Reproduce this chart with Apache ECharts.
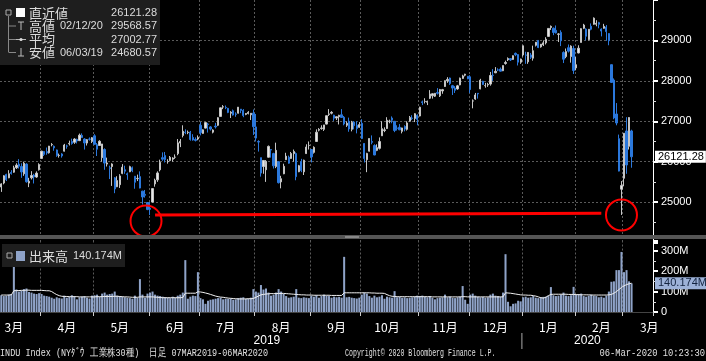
<!DOCTYPE html>
<html><head><meta charset="utf-8">
<script src="https://cdn.jsdelivr.net/npm/echarts@6/dist/echarts.min.js"></script>
<style>html,body{margin:0;padding:0;background:#000;}#c{width:706px;height:361px;}</style>
</head><body><div id="c"></div>
<script>
// ---- categories: trading days per month (last 8 of Mar 2020 are empty slots) ----
const monthDays = [
 ['2019-03', [8,11,12,13,14,15,18,19,20,21,22,25,26,27,28,29]],
 ['2019-04', [1,2,3,4,5,8,9,10,11,12,15,16,17,18,22,23,24,25,26,29,30]],
 ['2019-05', [1,2,3,6,7,8,9,10,13,14,15,16,17,20,21,22,23,24,28,29,30,31]],
 ['2019-06', [3,4,5,6,7,10,11,12,13,14,17,18,19,20,21,24,25,26,27,28]],
 ['2019-07', [1,2,3,5,8,9,10,11,12,15,16,17,18,19,22,23,24,25,26,29,30,31]],
 ['2019-08', [1,2,5,6,7,8,9,12,13,14,15,16,19,20,21,22,23,26,27,28,29,30]],
 ['2019-09', [3,4,5,6,9,10,11,12,13,16,17,18,19,20,23,24,25,26,27,30]],
 ['2019-10', [1,2,3,4,7,8,9,10,11,14,15,16,17,18,21,22,23,24,25,28,29,30,31]],
 ['2019-11', [1,4,5,6,7,8,11,12,13,14,15,18,19,20,21,22,25,26,27,29]],
 ['2019-12', [2,3,4,5,6,9,10,11,12,13,16,17,18,19,20,23,24,26,27,30,31]],
 ['2020-01', [2,3,6,7,8,9,10,13,14,15,16,17,21,22,23,24,27,28,29,30,31]],
 ['2020-02', [3,4,5,6,7,10,11,12,13,14,18,19,20,21,24,25,26,27,28]],
 ['2020-03', [2,3,4,5,6,9,10,11,12,13,16,17]]
];

// ---- daily candles [open, close, low, high] ----
const ohlc = [
 // Mar 2019
 [25373,25450,25252,25466],[25472,25650,25440,25665],[25685,25554,25520,25702],[25600,25702,25590,25790],
 [25735,25709,25680,25790],[25740,25848,25725,25900],[25850,25914,25820,25960],[25940,25887,25830,26062],
 [25880,25745,25600,25960],[25700,25962,25650,26000],[25940,25502,25480,25960],[25470,25516,25370,25600],
 [25600,25657,25560,25765],[25670,25625,25460,25700],[25620,25717,25600,25760],[25800,25929,25780,25960],
 // Apr
 [26080,26259,26070,26270],[26250,26180,26140,26260],[26250,26218,26170,26350],[26220,26385,26200,26390],
 [26420,26425,26380,26460],[26380,26341,26270,26400],[26290,26150,26120,26300],[26150,26157,26100,26200],
 [26190,26143,26100,26210],[26260,26412,26250,26440],[26390,26384,26320,26420],[26440,26452,26400,26520],
 [26500,26449,26420,26570],[26480,26559,26440,26580],[26550,26511,26450,26570],[26520,26656,26510,26695],
 [26650,26597,26590,26700],[26560,26462,26300,26580],[26460,26543,26400,26560],[26560,26554,26520,26600],
 [26500,26593,26460,26610],
 // May
 [26640,26430,26420,26680],[26420,26308,26140,26460],[26400,26505,26390,26530],[26100,26438,26000,26440],
 [26300,25965,25800,26330],[25940,25968,25880,26100],[25850,25828,25570,25900],[25880,25942,25400,25960],
 [25600,25325,25220,25620],[25380,25532,25370,25640],[25430,25648,25350,25690],[25710,25862,25690,25940],
 [25800,25764,25700,25900],[25700,25679,25550,25730],[25750,25877,25740,25900],[25850,25776,25740,25880],
 [25640,25490,25330,25640],[25580,25586,25520,25680],[25630,25347,25340,25760],[25270,25126,24940,25280],
 [25190,25169,25110,25300],[24990,24815,24800,25000],
 // Jun
 [24850,24820,24680,25000],[25000,25333,24990,25340],[25450,25540,25380,25580],[25550,25720,25500,25760],
 [25800,25984,25760,26050],[26100,26062,26020,26230],[26150,26049,25980,26240],[26000,26005,25950,26060],
 [26030,26107,26020,26140],[26060,26090,26000,26110],[26110,26112,26070,26180],[26200,26465,26160,26560],
 [26460,26504,26360,26560],[26650,26753,26600,26900],[26730,26719,26680,26800],[26720,26728,26680,26770],
 [26730,26548,26520,26760],[26600,26536,26520,26680],[26550,26526,26500,26600],[26560,26600,26530,26650],
 // Jul
 [26900,26717,26650,26980],[26700,26787,26690,26800],[26830,26966,26820,26970],[26930,26922,26720,26960],
 [26860,26806,26770,26880],[26730,26783,26700,26800],[26880,26860,26820,26960],[26900,27088,26880,27100],
 [27120,27332,27110,27340],[27350,27359,27300,27400],[27340,27335,27300,27390],[27320,27219,27200,27330],
 [27200,27223,27080,27250],[27260,27154,27140,27290],[27180,27171,27110,27220],[27200,27349,27190,27350],
 [27300,27269,27200,27300],[27270,27140,27100,27300],[27170,27192,27150,27200],[27190,27221,27170,27250],
 [27160,27198,27030,27200],[27200,26864,26660,27290],
 // Aug
 [26860,26583,26500,27180],[26500,26485,26250,26530],[26100,25718,25630,26100],[25880,26030,25700,26040],
 [25800,26008,25500,26040],[26110,26378,26100,26400],[26300,26287,26100,26310],[26200,25897,25830,26220],
 [25880,26280,25840,26470],[26000,25480,25460,26010],[25500,25579,25340,25650],[25700,25886,25690,25950],
 [26050,26136,26040,26220],[26110,25962,25950,26150],[26080,26202,26070,26240],[26200,26252,26000,26300],
 [26200,25629,25540,26230],[25750,25899,25740,25920],[26000,25778,25740,26070],[25750,26036,25670,26050],
 [26200,26362,26190,26430],[26400,26403,26300,26500],
 // Sep
 [26300,26118,25980,26310],[26230,26355,26200,26380],[26500,26728,26490,26800],[26780,26797,26750,26830],
 [26820,26835,26790,26900],[26800,26909,26760,26910],[26930,27137,26920,27140],[27170,27182,27130,27300],
 [27200,27220,27170,27250],[27150,27076,27010,27160],[27080,27111,27030,27120],[27110,27147,26920,27160],
 [27160,27094,27080,27300],[27100,26935,26900,27130],[26900,26949,26860,27000],[27000,26808,26740,27090],
 [26800,26970,26750,27010],[26980,26891,26800,27000],[26900,26820,26700,27000],[26850,26917,26840,26980],
 // Oct
 [26950,26573,26560,27050],[26450,26079,25980,26460],[26050,26201,25740,26220],[26260,26573,26250,26580],
 [26500,26478,26430,26650],[26400,26165,26160,26430],[26280,26347,26260,26430],[26330,26497,26300,26600],
 [26640,26817,26640,27000],[26770,26787,26730,26850],[26820,27024,26810,27100],[27000,27001,26950,27040],
 [27080,27026,26950,27120],[27000,26770,26730,27000],[26830,26827,26770,26900],[26850,26788,26780,26930],
 [26750,26834,26700,26840],[26870,26806,26750,26900],[26800,26958,26770,27000],[27000,27091,26990,27130],
 [27080,27071,27030,27150],[27070,27186,26980,27200],[27150,27046,26900,27170],
 // Nov
 [27130,27347,27120,27360],[27480,27462,27400,27510],[27490,27492,27440,27570],[27470,27493,27400,27510],
 [27570,27675,27550,27770],[27630,27681,27560,27690],[27620,27691,27600,27700],[27710,27691,27660,27820],
 [27630,27784,27600,27800],[27750,27782,27680,27800],[27860,28005,27850,28010],[28000,28036,27950,28090],
 [28070,27934,27900,28080],[27880,27821,27650,27900],[27820,27766,27700,27870],[27800,27876,27780,27900],
 [27900,28066,27890,28080],[28060,28122,28050,28150],[28140,28164,28110,28175],[28110,28051,28040,28120],
 // Dec
 [28100,27783,27700,28140],[27500,27503,27320,27540],[27550,27650,27530,27700],[27690,27677,27560,27700],
 [27800,28015,27790,28050],[27990,27909,27900,28000],[27880,27882,27830,27950],[27900,27911,27850,27950],
 [27920,28132,27880,28220],[28140,28135,28000,28290],[28200,28235,28190,28340],[28270,28267,28240,28310],
 [28290,28239,28230,28330],[28250,28377,28240,28380],[28430,28455,28400,28500],[28520,28551,28490,28580],
 [28550,28516,28490,28560],[28530,28621,28520,28630],[28680,28645,28610,28700],[28650,28462,28380,28660],
 [28460,28538,28420,28550],
 // Jan 2020
 [28640,28868,28600,28870],[28640,28634,28420,28720],[28470,28703,28420,28710],[28640,28583,28540,28690],
 [28560,28745,28500,28870],[28880,28956,28850,28960],[29000,28823,28810,29010],[28840,28907,28820,28910],
 [28890,28940,28860,29000],[28940,29030,28900,29080],[29100,29297,29090,29300],[29320,29348,29260,29370],
 [29300,29196,29130,29320],[29250,29186,29170,29370],[29150,29160,28960,29180],[29200,28990,28860,29250],
 [28700,28535,28440,28730],[28600,28723,28560,28800],[28820,28734,28700,28900],[28600,28859,28450,28880],
 [28800,28256,28170,28870],
 // Feb
 [28320,28399,28260,28590],[28690,28808,28680,28880],[28950,29291,28950,29300],[29300,29380,29280,29410],
 [29280,29103,29000,29300],[29020,29276,29000,29280],[29350,29276,29250,29420],[29400,29551,29390,29569],
 [29400,29423,29350,29500],[29440,29398,29300,29460],[29280,29232,29100,29300],[29300,29348,29290,29410],
 [29330,29219,28990,29380],[29170,28992,28880,29180],[28400,27961,27950,28400],[28020,27081,27050,28060],
 [27180,26957,26900,27450],[26570,25766,25760,26670],[25320,25409,24681,25520],
 // Mar 2020
 [25590,26703,25390,26710],[26760,25917,25700,27100],[26380,27091,26300,27100],[26760,26121.28,25850,26790]
];

// ---- volume (millions) ----
const volume = [
 82,78,80,85,88,318,110,100,105,112,115,98,95,90,88,92,
 88,80,78,75,70,65,72,68,66,80,70,75,82,78,62,72,75,78,70,66,80,
 82,85,75,90,95,85,88,90,100,80,78,75,72,70,68,65,80,70,161,85,70,90,
 95,100,85,80,78,75,72,70,68,75,70,80,85,95,254,65,75,80,78,195,
 68,62,40,55,60,62,65,68,70,62,65,64,66,60,62,68,70,72,65,66,70,112,
 100,95,132,110,115,95,80,85,95,112,100,88,78,70,72,75,112,70,68,72,70,68,
 80,75,82,70,78,85,80,78,70,75,72,74,70,270,72,74,70,68,66,70,
 85,95,90,78,70,80,72,75,82,65,75,72,70,102,72,74,70,72,68,70,72,75,80,
 78,80,75,72,78,70,62,68,70,72,85,72,75,70,68,72,75,127,60,40,
 85,90,80,75,72,74,70,72,85,90,80,78,75,95,283,50,28,40,42,55,52,
 72,75,70,72,78,70,68,72,74,75,80,122,82,78,80,85,95,80,78,82,123,
 85,88,90,78,75,80,85,80,78,72,75,70,80,100,148,150,205,205,294,
 195,205,150,140.174
];
// ---- volume average line (millions) ----
const volumeAvg = [
 83,83,83,83,84,104,105,105,106,106,107,107,106,106,106,106,
 106,105,104,104,100,92,85,80,77,76,76,75,75,75,75,74,74,74,74,74,74,
 74,75,75,75,76,76,76,76,77,77,76,75,74,74,73,72,72,72,74,74,74,74,
 74,74,73,72,71,70,70,70,70,70,70,70,70,71,92,92,92,92,92,99,
 98,96,93,90,86,82,78,75,73,72,70,68,67,66,65,64,64,64,64,65,65,66,
 72,78,84,86,88,89,90,90,90,91,91,91,90,89,88,87,86,85,84,84,83,83,
 83,82,82,82,82,82,82,82,81,81,81,81,81,94,94,94,94,94,94,94,
 94,94,94,94,93,93,92,92,92,91,85,80,77,76,75,75,75,75,75,75,75,75,75,
 75,75,75,75,75,74,74,74,74,74,74,74,74,74,74,74,74,75,75,74,
 74,74,74,74,74,74,74,74,74,74,74,74,74,74,94,93,92,90,88,86,84,
 83,83,82,82,80,78,74,70,68,72,80,86,87,87,87,87,87,87,86,86,86,
 85,85,84,84,84,84,83,83,83,83,83,83,83,84,86,92,100,110,120,
 128,134,138,141
];

const legendRows = [
 ['直近値', '', '26121.28'],
 ['高値', '02/12/20', '29568.57'],
 ['平均', '', '27002.77'],
 ['安値', '06/03/19', '24680.57']
];
const lastPrice = 26121.28;
const lastVolume = 140.174;
const circleMarks = [[59, 24530], [246, 24680]];   // [day index, price]
const supportLine = [[61, 24680], [238, 24722]];  // [day index, price]
const footerLeft = 'INDU Index (NYﾀﾞｳ 工業株30種)  日足 07MAR2019-06MAR2020';
const footerMid = 'Copyright© 2020 Bloomberg Finance L.P.';
const footerRight = '06-Mar-2020 10:23:30';

// ---- build categories ----
const cats = [];
const monthStart = new Set();
const labelIdx = new Set();
monthDays.forEach(([ym, days], mi) => {
  const s = cats.length;
  if (mi > 0) monthStart.add(s);
  days.forEach(d => cats.push(ym + '-' + String(d).padStart(2, '0')));
});
{
  let s = 0;
  monthDays.forEach(([ym, days], mi) => {
    if (mi === 0) labelIdx.add(days.length - 11);
    else labelIdx.add(s + 10);
    s += days.length;
  });
}
const jan2020 = cats.indexOf('2020-01-02');

const CJK = '"Noto Sans CJK JP", sans-serif';
const NUM = '"Liberation Sans", Arial, sans-serif';
const gridDot = {color: '#5a5a5a', type: [2, 2], width: 1};
const clear = {color: 'rgba(0,0,0,0)', width: 1};

const chart = echarts.init(document.getElementById('c'));
chart.setOption({
  animation: false,
  backgroundColor: '#000',
  grid: [
    {left: 0, right: 53, top: 0, height: 242.5},
    {left: 0, right: 53, top: 240.5, height: 71.5}
  ],
  xAxis: [
    {type: 'category', gridIndex: 0, data: cats, boundaryGap: true,
     axisLine: {show: false}, axisTick: {show: false}, axisLabel: {show: false},
     splitLine: {show: true, interval: (i) => monthStart.has(i), lineStyle: gridDot}},
    {type: 'category', gridIndex: 1, data: cats, boundaryGap: true, offset: 6,
     axisLine: {show: true, lineStyle: {color: '#444'}},
     axisTick: {show: true, interval: (i) => monthStart.has(i), length: 4, lineStyle: {color: '#ccc'}},
     axisLabel: {interval: (i) => labelIdx.has(i), color: '#fff', fontSize: 12, margin: 3,
       fontFamily: CJK, formatter: (v) => parseInt(v.slice(5, 7), 10) + '月'},
     splitLine: {show: true, interval: (i) => monthStart.has(i), lineStyle: gridDot}}
  ],
  yAxis: [
    {type: 'value', gridIndex: 0, position: 'right', min: 24000, max: 30000, interval: 1000,
     axisLine: {show: true, lineStyle: {color: '#fff'}},
     axisTick: {show: true, length: 5, lineStyle: {color: '#fff', width: 2}},
     minorTick: {show: true, splitNumber: 2, length: 3, lineStyle: {color: '#ddd'}},
     axisLabel: {color: '#fff', fontSize: 11, margin: 8, fontFamily: NUM, showMinLabel: false, showMaxLabel: false,
       formatter: (v) => String(v)},
     splitLine: {show: true, showMinLine: false, showMaxLine: false, lineStyle: gridDot}},
    {type: 'value', gridIndex: 1, position: 'right', min: 0, max: 350, interval: 100,
     axisLine: {show: true, lineStyle: {color: '#fff'}},
     axisTick: {show: true, length: 5, lineStyle: {color: '#fff', width: 2}},
     minorTick: {show: true, splitNumber: 2, length: 3, lineStyle: {color: '#ddd'}},
     axisLabel: {color: '#fff', fontSize: 11, margin: 8, fontFamily: NUM, showMaxLabel: false,
       formatter: (v) => v === 0 ? '0' : v + 'M'},
     splitLine: {show: false}}
  ],
  series: [
    {type: 'candlestick', xAxisIndex: 0, yAxisIndex: 0, data: ohlc, barWidth: '70%',
     itemStyle: {color: '#e8e8e8', color0: '#2b78dc', borderColor: '#c4c4c4', borderColor0: '#2b78dc', borderWidth: 1},
     markPoint: {symbol: 'circle', symbolSize: 31, silent: true,
       itemStyle: {color: 'rgba(0,0,0,0)', borderColor: '#ff0000', borderWidth: 2},
       label: {show: false},
       data: [
         {coord: [cats[circleMarks[0][0]], circleMarks[0][1]], symbolOffset: [-4, 0]},
         {coord: [cats[circleMarks[1][0]], circleMarks[1][1]]}
       ]},
     markLine: {symbol: ['none', 'none'], silent: true,
       data: [
         [{coord: [cats[supportLine[0][0]], supportLine[0][1]], lineStyle: {color: '#ff0000', width: 3, type: 'solid'}, label: {show: false}},
          {coord: [cats[supportLine[1][0]], supportLine[1][1]]}],
         {yAxis: lastPrice, lineStyle: clear,
          label: {show: true, position: 'end', distance: 2, formatter: String(lastPrice),
            backgroundColor: '#fff', color: '#000', fontSize: 11, fontFamily: NUM, padding: [1, 2, 0, 3]}}
       ]}
    },
    {type: 'bar', xAxisIndex: 1, yAxisIndex: 1, data: volume, barWidth: '80%',
     itemStyle: {color: '#8fa3c8'},
     markLine: {symbol: ['none', 'none'], silent: true,
       data: [{yAxis: lastVolume, lineStyle: clear,
         label: {show: true, position: 'end', distance: 2, formatter: lastVolume + 'M',
           backgroundColor: '#9db2d8', color: '#13233f', fontSize: 11, fontFamily: NUM, padding: [1, 2, 0, 3]}}]}
    },
    {type: 'line', xAxisIndex: 1, yAxisIndex: 1, data: volumeAvg, showSymbol: false, z: 3,
     lineStyle: {color: '#f0f0f0', width: 1}}
  ]
});

// ---- decorations & texts (positions from axes) ----
const px = (i) => chart.convertToPixel({xAxisIndex: 1}, cats[i]);
const band = px(1) - px(0);
const leftEdge = px(0) - band / 2;
const rightEdge = px(cats.length - 1) + band / 2;
const yearSep = px(jan2020) - band / 2;

const T = (text, x, y, font, fill, align) => ({type: 'text', x: x, y: y, z: 100,
  style: {text: text, font: font, fill: fill || '#ddd', align: align || 'left', textAlign: align || 'left',
    verticalAlign: 'middle', textVerticalAlign: 'middle'}});

const g = [];
g.push({type: 'rect', z: 99, shape: {x: 0, y: 235, width: 706, height: 4}, style: {fill: '#555'}});
g.push({type: 'rect', z: 100, shape: {x: 345, y: 236, width: 14, height: 2}, style: {fill: '#888'}});
g.push({type: 'rect', z: 99, shape: {x: 0, y: 0, width: 160, height: 65}, style: {fill: '#1e1e1e'}});
g.push({type: 'rect', z: 100, shape: {x: 6, y: 10, width: 5, height: 5}, style: {fill: 'none', stroke: '#aaa', lineWidth: 1}});
g.push({type: 'rect', z: 100, shape: {x: 16, y: 8, width: 9, height: 9}, style: {fill: '#fff'}});
g.push({type: 'line', z: 100, shape: {x1: 8.5, y1: 16, x2: 8.5, y2: 52}, style: {stroke: '#888', lineWidth: 1}});
const rowY = [13, 26, 39.5, 52.5];
[1, 2, 3].forEach(r => g.push({type: 'line', z: 100, shape: {x1: 8.5, y1: rowY[r], x2: 16, y2: rowY[r]}, style: {stroke: '#888', lineWidth: 1}}));
g.push({type: 'line', z: 100, shape: {x1: 21, y1: 22, x2: 21, y2: 30}, style: {stroke: '#bbb', lineWidth: 1}});
g.push({type: 'line', z: 100, shape: {x1: 18, y1: 22, x2: 24, y2: 22}, style: {stroke: '#bbb', lineWidth: 1}});
g.push({type: 'line', z: 100, shape: {x1: 16, y1: 39.5, x2: 26, y2: 39.5}, style: {stroke: '#bbb', lineWidth: 1}});
g.push({type: 'circle', z: 100, shape: {cx: 21, cy: 39.5, r: 1.6}, style: {fill: '#ddd'}});
g.push({type: 'line', z: 100, shape: {x1: 21, y1: 48, x2: 21, y2: 56}, style: {stroke: '#bbb', lineWidth: 1}});
g.push({type: 'line', z: 100, shape: {x1: 18, y1: 56, x2: 24, y2: 56}, style: {stroke: '#bbb', lineWidth: 1}});
legendRows.forEach((r, i) => {
  g.push(T(r[0], 29, rowY[i], '13px ' + CJK, '#dcdcdc'));
  if (r[1]) g.push(T(r[1], 60, rowY[i], '11px ' + NUM, '#dcdcdc'));
  g.push(T(r[2], 157, rowY[i], '11px ' + NUM, '#dcdcdc', 'right'));
});
g.push({type: 'rect', z: 99, shape: {x: 2, y: 244, width: 123, height: 23}, style: {fill: '#1e1e1e'}});
g.push({type: 'rect', z: 100, shape: {x: 7, y: 253, width: 5, height: 5}, style: {fill: 'none', stroke: '#aaa', lineWidth: 1}});
g.push({type: 'rect', z: 100, shape: {x: 16, y: 251, width: 9, height: 10}, style: {fill: '#8fa3c8'}});
g.push(T('出来高', 29, 256, '13px ' + CJK, '#dcdcdc'));
g.push(T(lastVolume + 'M', 73, 256, '11px ' + NUM, '#dcdcdc'));
g.push(T('2019', (leftEdge + yearSep) / 2 + 6, 341, '12px ' + NUM, '#fff', 'center'));
g.push(T('2020', (yearSep + rightEdge) / 2, 341, '12px ' + NUM, '#fff', 'center'));
g.push({type: 'line', z: 100, shape: {x1: yearSep, y1: 333, x2: yearSep, y2: 349}, style: {stroke: '#aaa', lineWidth: 1}});
const ft = (text, x, align, sx) => ({type: 'text', x: x, y: 353, z: 100, scaleX: sx,
  style: {text: text, font: '11px "Liberation Mono", "DejaVu Sans Mono", monospace', fill: '#e0e0e0',
    align: align, textAlign: align, verticalAlign: 'middle', textVerticalAlign: 'middle'}});
g.push(ft(footerLeft, 0, 'left', 0.77));
g.push(ft(footerMid, 345, 'left', 0.6));
g.push(ft(footerRight, 705, 'right', 0.8));
chart.setOption({graphic: g});
</script></body></html>
